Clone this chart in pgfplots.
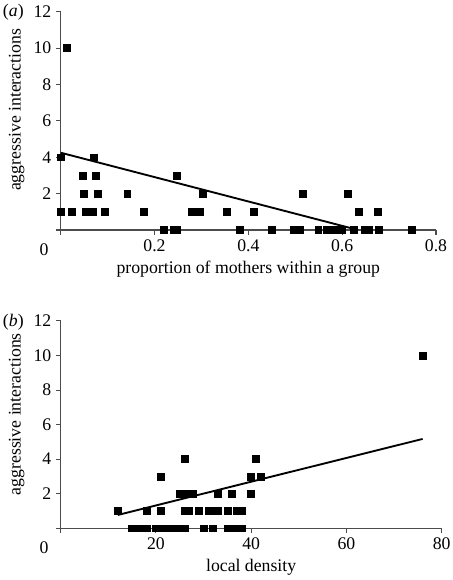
\documentclass[border=0pt]{standalone}
\usepackage{fontspec}
\setmainfont{Liberation Serif}
\usepackage{pgfplots}
\pgfplotsset{compat=1.18}
\newcommand{\figfont}{\fontsize{13.3}{15}\selectfont}
\pgfplotsset{
  myax/.style={
    scale only axis,
    axis lines=left,
    axis line style={-, draw=black!70, line width=0.8pt},
    tick align=outside,
    major tick length=3.5pt,
    tick style={draw=black!70, line width=0.8pt},
    every tick label/.append style={font=\figfont},
    label style={font=\figfont},
    ymin=0, ymax=12,
    ytick={0,2,4,6,8,10,12},
    yticklabels={,2,4,6,8,10,12},
    clip=false,
    /pgf/number format/assume math mode=true,
    ylabel={aggressive interactions},
    ylabel style={at={(ticklabel cs:0.55)}},
  },
  pts/.style={only marks, mark=square*, mark size=2.6pt, black},
  fit/.style={no marks, black, line width=1.4pt},
}
\begin{document}
\begin{tikzpicture}
% ---------- panel (a)
\begin{axis}[myax,
  at={(45.5pt,-172.5pt)}, anchor=south west,
  width=281.5pt, height=163.7pt,
  xmin=0, xmax=0.8,
  xtick={0,0.2,0.4,0.6,0.8},
  xticklabels={,0.2,0.4,0.6,0.8},
  xlabel={proportion of mothers within a group},
]
\addplot[pts] coordinates {
 (0.013,10)
 (0.0,4) (0.071,4)
 (0.047,3) (0.075,3) (0.248,3)
 (0.05,2) (0.08,2) (0.142,2) (0.302,2) (0.517,2) (0.611,2)
 (0.0,1) (0.023,1) (0.053,1) (0.061,1) (0.069,1) (0.093,1) (0.178,1) (0.279,1) (0.296,1) (0.354,1) (0.412,1) (0.635,1) (0.675,1)
 (0.219,0) (0.242,0) (0.247,0) (0.382,0) (0.450,0) (0.496,0) (0.509,0) (0.549,0) (0.567,0) (0.578,0) (0.590,0) (0.600,0) (0.624,0) (0.649,0) (0.656,0) (0.678,0) (0.748,0)
};
\addplot[fit] coordinates {(0,4.25) (0.634,0)};
\node[font=\figfont] at (axis cs:0,0) [xshift=-12.5pt, yshift=-15pt] {0};
\end{axis}
\node[font=\figfont] at (10pt,-9pt) {(\textit{a})};
% ---------- panel (b)
\begin{axis}[myax,
  at={(45.5pt,-396.2pt)}, anchor=south west,
  width=285.75pt, height=155.5pt,
  xmin=0, xmax=80,
  xtick={0,20,40,60,80},
  xticklabels={,20,40,60,80},
  xlabel={local density},
]
\addplot[pts] coordinates {
 (15,0) (16,0) (17,0) (18,0) (20,0) (21,0) (22,0) (23,0) (24,0) (25,0) (26,0) (30,0) (32,0) (35,0) (36,0) (37,0) (38,0)
 (12,1) (18,1) (21,1) (26,1) (27,1) (29,1) (31,1) (32,1) (33,1) (35,1) (37,1) (38,1)
 (25,2) (26,2) (27.7,2) (33,2) (36,2) (40,2)
 (21,3) (40,3) (42,3)
 (26,4) (41,4)
 (76,10)
};
\addplot[fit] coordinates {(12,0.77) (76,5.17)};
\node[font=\figfont] at (axis cs:0,0) [xshift=-12.5pt, yshift=-14.5pt] {0};
\end{axis}
\node[font=\figfont] at (10pt,-241.5pt) {(\textit{b})};
\pgfresetboundingbox
\path[use as bounding box] (0,0) rectangle (339pt,-435pt);
\end{tikzpicture}
\end{document}
